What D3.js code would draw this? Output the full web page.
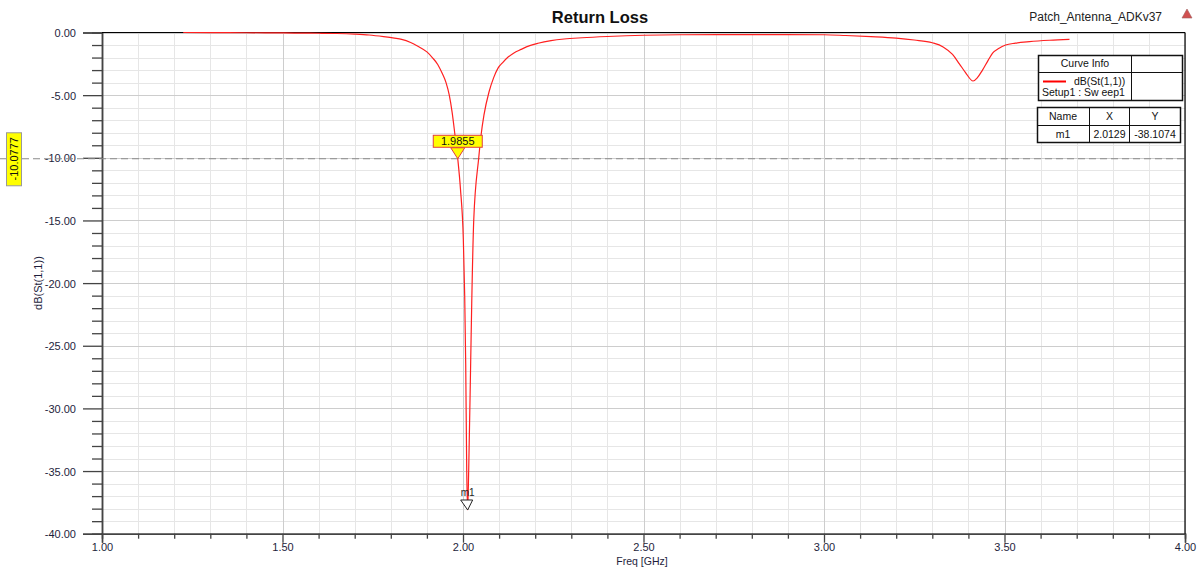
<!DOCTYPE html>
<html><head><meta charset="utf-8">
<script src="https://cdn.jsdelivr.net/npm/d3@7"></script>
<style>
html,body{margin:0;padding:0;background:#fff;}
svg{display:block;font-family:"Liberation Sans",Arial,sans-serif;}
</style></head>
<body>
<svg id="c" width="1199" height="567"></svg>
<script>
// ---- data ----
const freqGHz = [1.225,1.30,1.40,1.50,1.55,1.60,1.65,1.70,1.74,1.78,1.81,1.83,1.855,1.875,1.90,1.915,1.93,1.943,1.953,1.962,1.970,1.977,1.9855,1.993,2.0009,2.0047,2.0075,2.0103,2.0129,2.0158,2.0214,2.0242,2.0297,2.0436,2.050,2.058,2.072,2.085,2.097,2.11,2.125,2.14,2.161,2.185,2.208,2.244,2.28,2.33,2.40,2.50,2.60,2.80,3.00,3.06,3.13,3.20,3.25,3.30,3.33,3.356,3.375,3.392,3.413,3.425,3.439,3.455,3.467,3.485,3.503,3.53,3.569,3.625,3.68];
const s11dB   = [0.00,-0.01,-0.02,-0.03,-0.05,-0.06,-0.08,-0.13,-0.20,-0.33,-0.45,-0.55,-0.80,-1.10,-1.55,-2.00,-2.55,-3.3,-4.0,-5.0,-6.4,-8.0,-10.08,-12.5,-16.5,-21.0,-26.4,-34.9,-38.1074,-34.9,-26.1,-21.6,-15.0,-10.0,-8.2,-6.6,-4.75,-3.6,-2.84,-2.4,-1.96,-1.65,-1.35,-1.05,-0.86,-0.65,-0.52,-0.42,-0.32,-0.22,-0.18,-0.17,-0.18,-0.24,-0.33,-0.45,-0.60,-0.82,-1.15,-1.75,-2.5,-3.2,-3.87,-3.6,-3.0,-2.2,-1.65,-1.25,-1.0,-0.85,-0.73,-0.62,-0.55];
const xTickLabels = ["1.00","1.50","2.00","2.50","3.00","3.50","4.00"];
const yTickLabels = ["0.00","-5.00","-10.00","-15.00","-20.00","-25.00","-30.00","-35.00","-40.00"];
const refLevel = -10.0777;
const crossFreq = 1.9855;
const markerName = "m1", markerX = 2.0129, markerY = -38.1074;
const title = "Return Loss", projectName = "Patch_Antenna_ADKv37";
const curveName = "dB(St(1,1))", setupName = "Setup1 : Sw eep1";

// ---- chart ----
const svg = d3.select("#c");
const L=102,R=1185,T=32.5,B=533.7;
const x = d3.scaleLinear().domain([1,4]).range([L,R]);
const y = d3.scaleLinear().domain([-40,0]).range([B,T]);
const xMaj = xTickLabels.map(Number);
const yMaj = yTickLabels.map(Number);
const xMin = d3.range(10,41).map(v=>v/10).filter(v=>!xMaj.some(m=>Math.abs(m-v)<1e-9));
const yMin = d3.range(-40,1).filter(v=>v%5!==0);
const txt = "#1e1e3c";

// grid
const g = svg.append("g");
g.selectAll(".vmin").data(xMin).join("line").attr("x1",d=>Math.round(x(d))+0.5).attr("x2",d=>Math.round(x(d))+0.5).attr("y1",T).attr("y2",B).attr("stroke","#e6e6e6");
g.selectAll(".hmin").data(yMin).join("line").attr("y1",d=>Math.round(y(d))+0.5).attr("y2",d=>Math.round(y(d))+0.5).attr("x1",L).attr("x2",R).attr("stroke","#e6e6e6");
g.selectAll(".vmaj").data(xMaj).join("line").attr("x1",d=>Math.round(x(d))+0.5).attr("x2",d=>Math.round(x(d))+0.5).attr("y1",T).attr("y2",B).attr("stroke","#cdcdcd");
g.selectAll(".hmaj").data(yMaj).join("line").attr("y1",d=>Math.round(y(d))+0.5).attr("y2",d=>Math.round(y(d))+0.5).attr("x1",L).attr("x2",R).attr("stroke","#cdcdcd");

// axes
const axL = svg.append("g").attr("transform",`translate(${L},0)`)
  .call(d3.axisLeft(y).tickValues(yMaj).tickSize(19).tickPadding(7).tickFormat((d,i)=>yTickLabels[i]));
const axLm = svg.append("g").attr("transform",`translate(${L},0)`)
  .call(d3.axisLeft(y).tickValues(yMin).tickSize(10).tickFormat(""));
const axB = svg.append("g").attr("transform",`translate(0,${B})`)
  .call(d3.axisBottom(x).tickValues(xMaj).tickSize(9).tickPadding(1).tickFormat((d,i)=>xTickLabels[i]));
const axBm = svg.append("g").attr("transform",`translate(0,${B})`)
  .call(d3.axisBottom(x).tickValues(xMin).tickSize(5).tickFormat(""));
[axL,axLm,axB,axBm].forEach(a=>{
  a.select(".domain").attr("stroke","#444").attr("stroke-width",1.5);
  a.selectAll(".tick line").attr("stroke","#444").attr("stroke-width",1.3);
  a.selectAll("text").attr("fill",txt).attr("font-size",11).attr("font-family","Liberation Sans, Arial, sans-serif");
});
axL.selectAll("text").attr("dy","0.36em");
axB.selectAll("text").attr("dy","0.62em");
// frame top/right
svg.append("line").attr("x1",L).attr("x2",R).attr("y1",T).attr("y2",T).attr("stroke","#000").attr("stroke-width",1.2);
svg.append("line").attr("x1",R).attr("x2",R).attr("y1",T).attr("y2",B).attr("stroke","#000").attr("stroke-width",1.2);

// reference dashed line
svg.append("line").attr("x1",0).attr("x2",R).attr("y1",y(refLevel)).attr("y2",y(refLevel))
  .attr("stroke","#8a8a8a").attr("stroke-width",1.2).attr("stroke-dasharray","7,4");

// curve
const pts = freqGHz.map((f,i)=>[f,s11dB[i]]);
svg.append("path").datum(pts)
  .attr("d",d3.line().x(d=>x(d[0])).y(d=>y(d[1])).curve(d3.curveMonotoneX))
  .attr("fill","none").attr("stroke","#ff2020").attr("stroke-width",1.2);

// titles
svg.append("text").attr("x",600).attr("y",23).attr("text-anchor","middle").attr("font-size",16.5).attr("font-weight","bold").attr("fill","#111").text(title);
svg.append("text").attr("x",1162).attr("y",21).attr("text-anchor","end").attr("font-size",12).attr("fill","#222").text(projectName);
svg.append("path").attr("d","M1187,9 L1192,18 L1182,18 Z").attr("fill","#d05050").attr("stroke","#a06060").attr("stroke-width",0.6);
svg.append("text").attr("transform",`translate(42,${(T+B)/2}) rotate(-90)`).attr("text-anchor","middle").attr("font-size",11).attr("fill",txt).text(curveName);
svg.append("text").attr("x",642).attr("y",564.5).attr("text-anchor","middle").attr("font-size",10.5).attr("fill",txt).text("Freq [GHz]");

// y reference label (yellow, rotated)
const ry = y(refLevel);
svg.append("rect").attr("x",6.5).attr("y",ry-26).attr("width",15).attr("height",53).attr("fill","#ffff00").attr("stroke","#999");
svg.append("text").attr("transform",`translate(18,${ry}) rotate(-90)`).attr("text-anchor","middle").attr("font-size",11).attr("fill","#111").text(refLevel.toFixed(4));

// crossing marker label
const cx = x(crossFreq);
svg.append("path").attr("d",`M${cx-7},${ry-11} L${cx+7},${ry-11} L${cx},${ry} Z`).attr("fill","#ffff00").attr("stroke","#e04040").attr("stroke-width",1);
svg.append("rect").attr("x",cx-24.5).attr("y",ry-23.5).attr("width",49).attr("height",12).attr("fill","#ffff00").attr("stroke","#e04040").attr("stroke-width",1);
svg.append("text").attr("x",cx).attr("y",ry-13.5).attr("text-anchor","middle").attr("font-size",11).attr("fill","#111").text(crossFreq.toFixed(4));

// m1 marker
const mx = x(markerX), my = y(markerY);
svg.append("path").attr("d",`M${mx-7},${my-10} L${mx+5},${my-10} L${mx},${my} Z`).attr("fill","#fff").attr("stroke","#222").attr("stroke-width",1);
svg.append("text").attr("x",mx).attr("y",my-14).attr("text-anchor","middle").attr("font-size",10).attr("fill","#222").text(markerName);

// legend: curve info
const lg = svg.append("g").attr("font-size",10.5).attr("fill","#111");
lg.append("rect").attr("x",1038.5).attr("y",55.5).attr("width",144).attr("height",45).attr("fill","#fff").attr("stroke","#111").attr("stroke-width",1.5);
lg.append("line").attr("x1",1131.5).attr("x2",1131.5).attr("y1",55.5).attr("y2",100.5).attr("stroke","#111");
lg.append("line").attr("x1",1038.5).attr("x2",1182.5).attr("y1",72.5).attr("y2",72.5).attr("stroke","#111");
lg.append("text").attr("x",1085).attr("y",67).attr("text-anchor","middle").text("Curve Info");
lg.append("line").attr("x1",1043).attr("x2",1066).attr("y1",81.5).attr("y2",81.5).attr("stroke","#ff0000").attr("stroke-width",2);
lg.append("text").attr("x",1074).attr("y",85).text(curveName);
lg.append("text").attr("x",1042).attr("y",96).text(setupName);

// legend: marker table
const tx=1037.5, ty=107.5, tw=143, th=35;
lg.append("rect").attr("x",tx).attr("y",ty).attr("width",tw).attr("height",th).attr("fill","#fff").attr("stroke","#111").attr("stroke-width",1.5);
lg.append("line").attr("x1",tx).attr("x2",tx+tw).attr("y1",125.5).attr("y2",125.5).attr("stroke","#111");
[1089.5,1129.5].forEach(v=>lg.append("line").attr("x1",v).attr("x2",v).attr("y1",ty).attr("y2",ty+th).attr("stroke","#111"));
const cols=[1063,1109.5,1155];
["Name","X","Y"].forEach((t,i)=>lg.append("text").attr("x",cols[i]).attr("y",120).attr("text-anchor","middle").text(t));
[markerName,markerX.toFixed(4),markerY.toFixed(4)].forEach((t,i)=>lg.append("text").attr("x",cols[i]).attr("y",138).attr("text-anchor","middle").text(t));
</script>
</body></html>
